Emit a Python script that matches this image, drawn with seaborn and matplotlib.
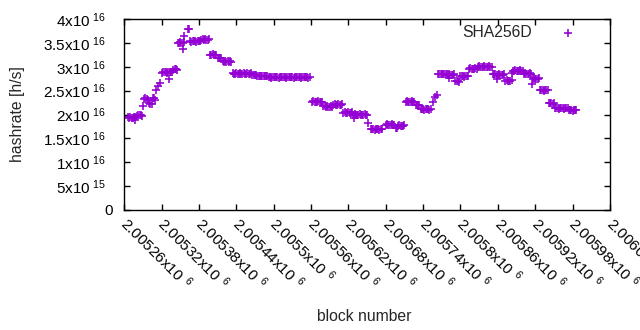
import matplotlib
matplotlib.use('Agg')
import matplotlib.pyplot as plt
from matplotlib.transforms import ScaledTranslation
import seaborn as sns
import pandas as pd
import numpy as np

# block numbers are stored as offsets from block0
block0 = 2005000
block_offset = [
    266, 268, 270, 272, 274, 276, 278, 277,
    281, 283, 285, 287, 289, 290,
    292, 294, 296, 298, 300, 302, 304,
    306, 308, 310, 311, 315, 318,
    321, 323, 325, 327, 329, 331, 333, 335, 337, 332,
    339, 341, 343, 345,
    346, 348, 350, 352, 354, 356, 355, 356,
    362, 364,
    366, 368, 370, 372, 374, 376, 378, 380, 382,
    384, 386, 388, 390, 392, 394, 396,
    398, 400, 402, 404, 406, 408,
    410, 412, 414, 416,
    418, 420, 422, 424, 426, 428, 430, 432,
    434, 436, 438, 440, 442, 444, 446, 448,
    450, 452, 454, 456, 458, 460, 462, 464,
    466, 468, 470, 472,
    474, 476, 478, 480, 482, 484, 486, 488, 490,
    492, 494, 496, 498, 500, 502, 504, 506, 508, 510, 512, 514, 516, 518, 520, 522, 524,
    526, 528, 530, 532, 534, 536, 538, 540, 542, 544, 546, 548, 550, 552, 554, 556, 558,
    562, 564, 566, 568, 570, 572, 574, 576, 578,
    580, 582, 584, 586, 588, 590, 592, 594,
    596, 598, 600, 602, 604, 606, 608, 610,
    612, 614, 616, 618, 620, 622, 624, 626,
    628, 630, 632, 634, 636, 638, 640, 642, 644, 646, 648, 650, 629, 651,
    656, 658, 660, 662, 664, 666, 668, 670, 672, 674,
    680, 682, 684, 686, 688, 690, 692, 694,
    696, 698,
    700, 702, 704, 706, 708, 710,
    712, 714, 716, 718, 720, 722, 724, 726,
    728, 730, 732, 734,
    736, 738, 740, 742, 744, 746, 748, 750, 752,
    756, 759, 762,
    764, 766, 768, 770, 772, 774, 776, 778,
    780, 782, 784, 786, 788, 790, 781,
    792, 794, 796, 798,
    800, 802, 804, 806, 808, 810, 812,
    814, 816, 818, 820, 822, 824, 826,
    828, 830, 832, 834, 836, 838, 840, 842, 844, 846, 848, 850,
    852, 854, 856, 858, 859,
    860, 862, 864, 866, 868, 870,
    872, 874, 876, 878, 880, 882,
    883, 885,
    886, 888, 890, 892, 894, 896, 898, 900,
    902, 904, 906, 908, 910, 912, 914, 915,
    916, 918, 920, 922, 924, 926,
    928, 930, 932, 934, 936, 938, 940,
    942, 944, 946, 948, 950,
    952, 954, 956, 958, 960, 962, 964, 966, 968, 970, 972,
    974, 976, 978, 980, 982, 984, 986]

# hashrate in units of 1e16 h/s
hashrate = [
    1.95, 1.93, 1.94, 1.92, 1.93, 1.95, 1.94, 1.88,
    1.97, 1.99, 2.00, 1.98, 1.96, 2.18,
    2.33, 2.35, 2.32, 2.31, 2.24, 2.22, 2.23,
    2.34, 2.35, 2.31, 2.51, 2.60, 2.66,
    2.88, 2.89, 2.90, 2.89, 2.88, 2.89, 2.90, 2.89, 2.90, 2.74,
    2.93, 2.95, 2.96, 2.94,
    3.51, 3.50, 3.52, 3.51, 3.50, 3.52, 3.37, 3.64,
    3.79, 3.80,
    3.54, 3.53, 3.55, 3.54, 3.54, 3.53, 3.55, 3.54, 3.54,
    3.57, 3.58, 3.57, 3.58, 3.57, 3.56, 3.58,
    3.25, 3.24, 3.26, 3.25, 3.25, 3.24,
    3.19, 3.18, 3.19, 3.18,
    3.12, 3.11, 3.12, 3.11, 3.12, 3.11, 3.12, 3.11,
    2.87, 2.86, 2.86, 2.87, 2.86, 2.86, 2.87, 2.86,
    2.86, 2.87, 2.86, 2.86, 2.87, 2.86, 2.86, 2.87,
    2.83, 2.83, 2.83, 2.83,
    2.80, 2.81, 2.80, 2.80, 2.81, 2.80, 2.80, 2.81, 2.80,
    2.78, 2.78, 2.77, 2.78, 2.78, 2.79, 2.78, 2.78, 2.77, 2.78, 2.78, 2.79, 2.78, 2.78, 2.77, 2.78, 2.78,
    2.79, 2.78, 2.78, 2.77, 2.78, 2.78, 2.79, 2.78, 2.78, 2.77, 2.78, 2.78, 2.79, 2.78, 2.78, 2.77, 2.78,
    2.27, 2.28, 2.27, 2.26, 2.27, 2.28, 2.27, 2.26, 2.27,
    2.18, 2.17, 2.16, 2.17, 2.16, 2.15, 2.17, 2.16,
    2.20, 2.21, 2.20, 2.20, 2.21, 2.20, 2.20, 2.21,
    2.04, 2.05, 2.04, 2.04, 2.05, 2.04, 2.04, 2.05,
    2.00, 2.01, 2.00, 1.99, 2.00, 2.01, 2.00, 1.99, 2.00, 2.01, 2.00, 1.99, 1.93, 1.82,
    1.69, 1.70, 1.69, 1.68, 1.69, 1.70, 1.69, 1.68, 1.69, 1.70,
    1.79, 1.80, 1.79, 1.78, 1.79, 1.80, 1.79, 1.78,
    1.71, 1.72,
    1.76, 1.77, 1.76, 1.75, 1.76, 1.77,
    2.27, 2.28, 2.27, 2.26, 2.27, 2.28, 2.27, 2.26,
    2.20, 2.19, 2.20, 2.19,
    2.11, 2.12, 2.11, 2.10, 2.11, 2.12, 2.11, 2.10, 2.11,
    2.26, 2.37, 2.41,
    2.85, 2.86, 2.85, 2.84, 2.85, 2.86, 2.85, 2.84,
    2.83, 2.84, 2.83, 2.82, 2.83, 2.84, 2.76,
    2.70, 2.71, 2.70, 2.69,
    2.80, 2.81, 2.80, 2.79, 2.80, 2.81, 2.80,
    2.96, 2.97, 2.96, 2.95, 2.96, 2.97, 2.96,
    3.00, 3.01, 3.00, 2.99, 3.00, 3.01, 3.00, 2.99, 3.00, 3.01, 3.00, 2.99,
    2.84, 2.85, 2.84, 2.83, 2.74,
    2.83, 2.84, 2.83, 2.82, 2.83, 2.84,
    2.71, 2.72, 2.71, 2.70, 2.71, 2.72,
    2.87, 2.91,
    2.92, 2.93, 2.92, 2.91, 2.92, 2.93, 2.92, 2.91,
    2.86, 2.87, 2.86, 2.85, 2.86, 2.87, 2.86, 2.64,
    2.75, 2.76, 2.75, 2.74, 2.75, 2.76,
    2.51, 2.52, 2.51, 2.50, 2.51, 2.52, 2.51,
    2.24, 2.25, 2.24, 2.23, 2.24,
    2.13, 2.14, 2.13, 2.12, 2.13, 2.14, 2.13, 2.12, 2.13, 2.14, 2.13,
    2.09, 2.10, 2.09, 2.08, 2.09, 2.10, 2.09]

xticks = [2005260, 2005320, 2005380, 2005440, 2005500, 2005560, 2005620,
          2005680, 2005740, 2005800, 2005860, 2005920, 2005980, 2006040]
yticks = [0, 0.5e16, 1.0e16, 1.5e16, 2.0e16, 2.5e16, 3.0e16, 3.5e16, 4.0e16]

if len(block_offset) != len(hashrate):
    print('length mismatch', len(block_offset), len(hashrate))
n = min(len(block_offset), len(hashrate))
df = pd.DataFrame({'block': block0 + np.array(block_offset[:n]),
                   'hashrate': np.array(hashrate[:n]) * 1e16})

sns.set_style('ticks')
plt.rcParams['font.family'] = ['Liberation Sans', 'DejaVu Sans']
plt.rcParams['mathtext.fontset'] = 'custom'
plt.rcParams['mathtext.rm'] = 'Liberation Sans'

fig, ax = plt.subplots(figsize=(6.4, 3.3), dpi=100)
fig.subplots_adjust(left=0.194, right=0.953, bottom=0.364, top=0.942)

sns.scatterplot(data=df, x='block', y='hashrate', marker='+', color='#9400d3',
                s=36, linewidth=1.15, label='SHA256D', ax=ax)


def sci(v):
    if v == 0:
        return '0'
    e = int(np.floor(np.log10(v) + 1e-9))
    m = v / 10 ** e
    return r'$\mathregular{%gx10^{\ %d}}$' % (round(m, 4), e)


ax.set_xlim(2005260, 2006040)
ax.set_ylim(0, 4e16)
ax.set_xticks(xticks)
ax.set_xticklabels([r'$\mathregular{%gx10^{\ \,6}}$' % (b / 1e6) for b in xticks],
                   rotation=-45, ha='left', va='top', rotation_mode='anchor')
ax.set_yticks(yticks)
ax.set_yticklabels([sci(v) for v in yticks])

for s in ax.spines.values():
    s.set_visible(True)
    s.set_color('black')
    s.set_linewidth(1.0)
ax.tick_params(direction='in', length=4, width=1, top=True, right=True,
               labelsize=11, colors='black')
ax.tick_params(axis='y', pad=8)
ax.tick_params(axis='x', pad=3)

# nudge tick labels (after tick_params, which resets transforms)
xshift = ScaledTranslation(6 / 100, 0, fig.dpi_scale_trans)
for lab in ax.get_xticklabels():
    lab.set_transform(lab.get_transform() + xshift)
yshift = ScaledTranslation(-7 / 100, 0, fig.dpi_scale_trans)
for lab in ax.get_yticklabels()[1:]:
    lab.set_transform(lab.get_transform() + yshift)

ax.set_xlabel('block number', fontsize=11.3)
ax.set_ylabel('hashrate [h/s]', fontsize=11.3)
ax.xaxis.set_label_coords(0.495, -0.518)
ax.yaxis.set_label_coords(-0.205, 0.5)

leg = ax.legend(loc='upper right', frameon=False, markerfirst=False,
                fontsize=11.3, bbox_to_anchor=(0.958, 1.0), handletextpad=1.25,
                borderaxespad=0)

fig.savefig('out.png', dpi=100)
